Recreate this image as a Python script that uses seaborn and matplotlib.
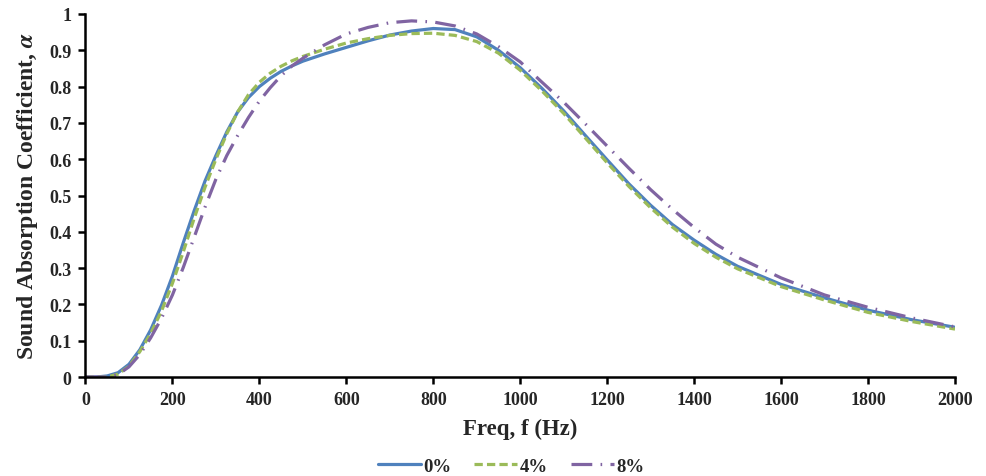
import numpy as np
import pandas as pd
import matplotlib
matplotlib.use("Agg")
import matplotlib.pyplot as plt
import seaborn as sns

freq = [0, 25, 50, 75, 100, 125, 150, 175, 200, 225, 250, 275, 300, 325, 350, 375, 400,
        425, 450, 475, 500, 550, 600, 650, 700, 750, 800, 850, 900, 950, 1000, 1050, 1100,
        1150, 1200, 1250, 1300, 1350, 1400, 1450, 1500, 1600, 1700, 1800, 1900, 2000]

alpha_0 = [0.0, 0.0, 0.003, 0.012, 0.035, 0.075, 0.13, 0.198, 0.278, 0.37, 0.458, 0.54, 0.61,
           0.675, 0.73, 0.77, 0.80, 0.823, 0.842, 0.857, 0.87, 0.89, 0.908, 0.926, 0.942,
           0.953, 0.96, 0.957, 0.937, 0.90, 0.852, 0.795, 0.733, 0.665, 0.598, 0.532, 0.473,
           0.42, 0.377, 0.338, 0.305, 0.255, 0.218, 0.184, 0.158, 0.137]
alpha_4 = [0.0, 0.0, 0.0, 0.008, 0.03, 0.07, 0.12, 0.182, 0.258, 0.345, 0.437, 0.523, 0.60,
           0.67, 0.73, 0.778, 0.812, 0.837, 0.856, 0.871, 0.883, 0.903, 0.92, 0.932, 0.941,
           0.946, 0.947, 0.941, 0.924, 0.892, 0.845, 0.788, 0.726, 0.658, 0.59, 0.525, 0.466,
           0.413, 0.368, 0.33, 0.298, 0.249, 0.212, 0.178, 0.153, 0.132]
alpha_8 = [0.0, 0.0, 0.0, 0.007, 0.028, 0.062, 0.108, 0.162, 0.226, 0.302, 0.385, 0.468, 0.545,
           0.61, 0.665, 0.715, 0.76, 0.797, 0.83, 0.857, 0.878, 0.915, 0.945, 0.963, 0.976,
           0.981, 0.978, 0.967, 0.945, 0.91, 0.868, 0.812, 0.757, 0.697, 0.636, 0.575, 0.516,
           0.462, 0.412, 0.366, 0.33, 0.273, 0.226, 0.192, 0.163, 0.138]

series_names = ["0%", "4%", "8%"]
colors = ["#4F81BD", "#9BBB59", "#8064A2"]
x_ticks = list(range(0, 2001, 200))
y_ticks = [round(v * 0.1, 1) for v in range(11)]
y_tick_labels = ["0"] + [f"{v:.1f}" for v in y_ticks[1:-1]] + ["1"]

df = pd.DataFrame({
    "Freq": freq * 3,
    "alpha": alpha_0 + alpha_4 + alpha_8,
    "series": sum([[n] * len(freq) for n in series_names], []),
})

sns.set_theme(style="white")
plt.rcParams["font.family"] = ["Liberation Serif", "DejaVu Serif"]
plt.rcParams["font.weight"] = "bold"
plt.rcParams["mathtext.fontset"] = "stix"

fig = plt.figure(figsize=(9.87, 4.77), dpi=100)
ax = fig.add_axes([0.0866, 0.2075, 0.881, 0.7611])

sns.lineplot(data=df, x="Freq", y="alpha", hue="series", style="series",
             palette=dict(zip(series_names, colors)),
             dashes={"0%": "", "4%": (2.6, 1.3), "8%": (6.5, 2.6, 0.5, 2.6)},
             linewidth=2.3, ax=ax, legend=True)

ax.set_xlim(0, 2000)
ax.set_ylim(0, 1)
ax.set_xticks(x_ticks)
ax.set_yticks(y_ticks)
ax.set_yticklabels(y_tick_labels)
ax.tick_params(axis="both", which="major", direction="out", length=5, width=1.8,
               labelsize=13, color="black", bottom=True, left=True, pad=5)
for lab in ax.get_xticklabels() + ax.get_yticklabels():
    lab.set_fontweight("bold")

for side in ["top", "right"]:
    ax.spines[side].set_visible(False)
for side in ["left", "bottom"]:
    ax.spines[side].set_color("black")
    ax.spines[side].set_linewidth(1.8)

ax.set_xlabel("Freq, f (Hz)", fontsize=16.5, fontweight="bold", labelpad=7)
ax.set_ylabel(r"Sound Absorption Coefficient, $\alpha$", fontsize=17, fontweight="bold", labelpad=7)

handles, labels = ax.get_legend_handles_labels()
ax.get_legend().remove()
fig.legend(handles, labels, loc="center", bbox_to_anchor=(0.518, 0.02), ncol=3,
           frameon=False, prop={"weight": "bold", "size": 13.5}, handlelength=2.3,
           columnspacing=1.2, handletextpad=0.15)

fig.savefig("out.png", dpi=100)
